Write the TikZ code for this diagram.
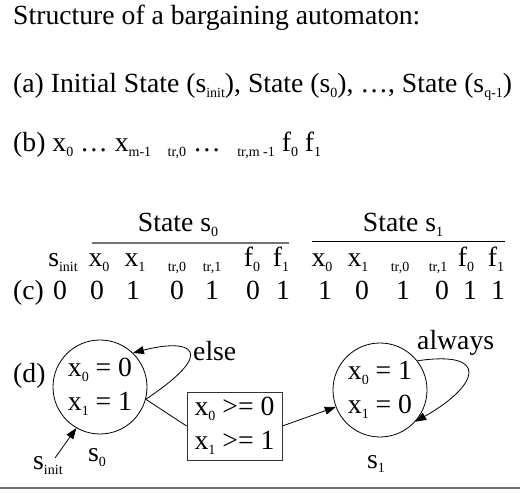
\documentclass[tikz,border=0pt]{standalone}
\usepackage{fontspec}
\setmainfont{Liberation Serif}
\usetikzlibrary{arrows.meta}
\newcommand{\mysub}[1]{\raisebox{-5pt}{\fontsize{14}{14}\selectfont #1}}
\begin{document}
\begin{tikzpicture}[x=1pt,y=-1pt,
  every node/.style={inner sep=0pt, font=\fontsize{27.7}{33.5}\selectfont},
  txt/.style={anchor=base west},
  col/.style={anchor=base},
  state/.style={draw, circle, minimum size=94pt, align=center, line width=0.8pt},
  guard/.style={draw=black!80, rectangle, minimum width=95pt, minimum height=68pt, align=center, line width=0.8pt},
  arr/.style={-{Triangle[length=11pt,width=8pt]}, line width=0.8pt},
  plain/.style={line width=0.8pt},
  grayrule/.style={draw=black!55, line width=1.8pt}]
\useasboundingbox (0,0) rectangle (520,494);

% heading lines
\node[txt] (title) at (13,25) {Structure of a bargaining automaton:};
\node[txt] (linea) at (13,93) {(a) Initial State (s\mysub{init}), State (s\mysub{0}), …, State (s\mysub{q-1})};
\node[txt] (lineb) at (13,152) {(b) x\mysub{0} … x\mysub{m-1}\hspace{16.5pt}\mysub{tr,0} …\hspace{16.5pt}\mysub{tr,m -1} f\mysub{0} f\mysub{1}};

% table
\node[col] (st0) at (178,232) {State s\mysub{0}};
\node[col] (st1) at (403,232) {State s\mysub{1}};
\draw[grayrule] (92,243) -- (289,243);
\draw[line width=1pt] (312,242) -- (505,242);

\node[col] (hsi) at (63,267) {s\mysub{init}};
\node[col] (ha0) at (99,267) {x\mysub{0}};
\node[col] (ha1) at (135,267) {x\mysub{1}};
\node[col] (ha2) at (177,267) {\mysub{tr,0}};
\node[col] (ha3) at (212,267) {\mysub{tr,1}};
\node[col] (ha4) at (252,267) {f\mysub{0}};
\node[col] (ha5) at (281,267) {f\mysub{1}};
\node[col] (hb0) at (322,267) {x\mysub{0}};
\node[col] (hb1) at (358,267) {x\mysub{1}};
\node[col] (hb2) at (400,267) {\mysub{tr,0}};
\node[col] (hb3) at (438,267) {\mysub{tr,1}};
\node[col] (hb4) at (466,267) {f\mysub{0}};
\node[col] (hb5) at (496,267) {f\mysub{1}};

\node[txt] (linec) at (13,300) {(c)};
\node[col] (v0) at (60,300) {0};
\node[col] (v1) at (97,300) {0};
\node[col] (v2) at (133,300) {1};
\node[col] (v3) at (177,300) {0};
\node[col] (v4) at (212,300) {1};
\node[col] (v5) at (253,300) {0};
\node[col] (v6) at (283,300) {1};
\node[col] (v7) at (325,300) {1};
\node[col] (v8) at (362,300) {0};
\node[col] (v9) at (403,300) {1};
\node[col] (v10) at (442,300) {0};
\node[col] (v11) at (470,300) {1};
\node[col] (v12) at (498,300) {1};

% automaton
\node[txt] (lined) at (13,383) {(d)};
\node[state] (s0) at (100,387) {x\mysub{0} = 0\\x\mysub{1} = 1};
\node[state] (s1) at (380,390) {x\mysub{0} = 1\\x\mysub{1} = 0};
\node[guard] (g) at (234.5,426) {x\mysub{0} >= 0\\x\mysub{1} >= 1};
\node[txt] (else) at (193,361) {else};
\node[txt] (always) at (417,350) {always};
\node[txt] (sinit) at (33,470) {s\mysub{init}};
\node[txt] (l0) at (88,462) {s\mysub{0}};
\node[txt] (l1) at (367,468) {s\mysub{1}};
\coordinate (initstart) at (55,458);

\draw[plain] (s0.-15) -- (g.west);
\draw[arr] (g.east) -- (s1.201);
\draw[arr] (s0.-15) .. controls (220,350) and (190,338) .. (s0.46);
\draw[arr] (s1.38) .. controls (490,350) and (480,385) .. (s1.-42);
\draw[arr] (initstart) -- (s0.240);

\draw[grayrule] (0,488) -- (520,488);
\end{tikzpicture}
\end{document}
